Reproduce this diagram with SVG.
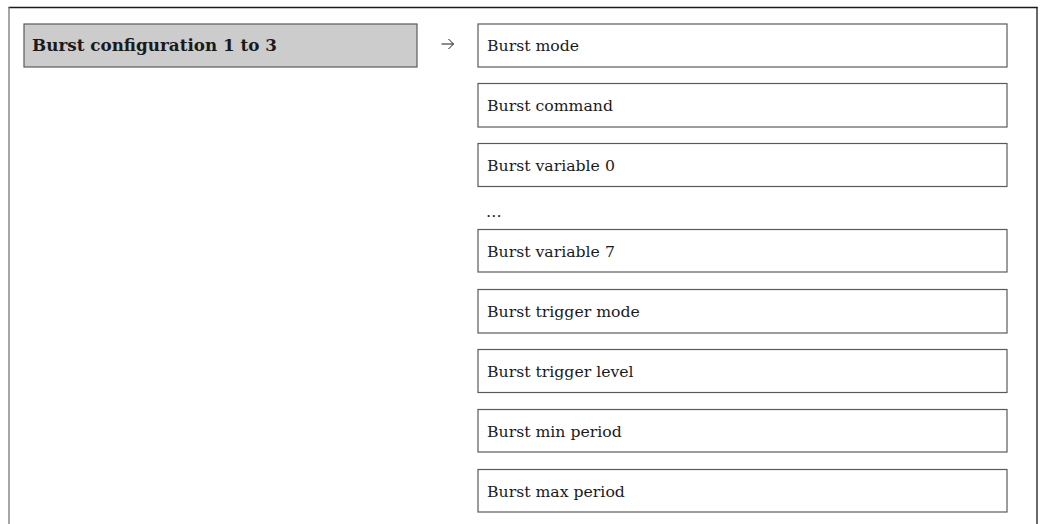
<svg xmlns="http://www.w3.org/2000/svg" width="1043" height="524" viewBox="0 0 1043 524">
<style>
.box{fill:#ffffff;stroke:#5a5a5a;stroke-width:1.2}
.head{fill:#cccccc;stroke:#5a5a5a;stroke-width:1.2}
.t{font-family:"DejaVu Serif","Liberation Serif",serif;font-size:15.7px;fill:#1a1a1a}
.tb{font-family:"DejaVu Serif","Liberation Serif",serif;font-size:17px;font-weight:bold;fill:#1a1a1a}
.frame{fill:none;stroke:#1a1a1a;stroke-width:1.3}
.conn{fill:none;stroke:#1a1a1a;stroke-width:1}
</style>
<rect width="1043" height="524" fill="#ffffff"/>
<g id="frame">
<line class="frame" x1="8.5" y1="7.5" x2="1037.5" y2="7.5"/>
<line class="frame" x1="9" y1="7" x2="9" y2="524" style="stroke:#777"/>
<line class="frame" x1="1037" y1="7" x2="1037" y2="524"/>
</g>
<g id="burst-configuration">
<rect class="head" x="24" y="24" width="393" height="43"/>
<text class="tb" x="32" y="51" textLength="245" lengthAdjust="spacingAndGlyphs">Burst configuration 1 to 3</text>
</g>
<g id="connectors">
<path class="conn" d="M441.5 44 H453.5 M448.5 39 L453.5 44 L448.5 49"/>
</g>
<g id="burst-mode"><rect class="box" x="478" y="24" width="529" height="43"/><text class="t" x="487" y="51">Burst mode</text></g>
<g id="burst-command"><rect class="box" x="478" y="83.5" width="529" height="43.5"/><text class="t" x="487" y="110.5">Burst command</text></g>
<g id="burst-variable-0"><rect class="box" x="478" y="143.5" width="529" height="43"/><text class="t" x="487" y="170.5">Burst variable 0</text></g>
<g id="ellipsis"><text class="t" x="486" y="217">…</text></g>
<g id="burst-variable-7"><rect class="box" x="478" y="229.5" width="529" height="42.5"/><text class="t" x="487" y="256.5">Burst variable 7</text></g>
<g id="burst-trigger-mode"><rect class="box" x="478" y="289.5" width="529" height="43.5"/><text class="t" x="487" y="316.5">Burst trigger mode</text></g>
<g id="burst-trigger-level"><rect class="box" x="478" y="349.5" width="529" height="43"/><text class="t" x="487" y="376.5">Burst trigger level</text></g>
<g id="burst-min-period"><rect class="box" x="478" y="409.5" width="529" height="42.5"/><text class="t" x="487" y="436.5">Burst min period</text></g>
<g id="burst-max-period"><rect class="box" x="478" y="469.5" width="529" height="42.5"/><text class="t" x="487" y="496.5">Burst max period</text></g>
</svg>
